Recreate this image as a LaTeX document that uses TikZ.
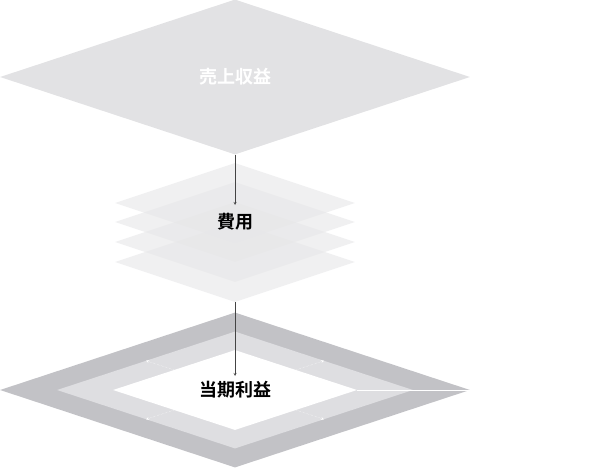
\documentclass[tikz,border=0pt]{standalone}
\usepackage{fontspec}
\newfontfamily\jpbold{Noto Sans CJK JP Bold}
\usetikzlibrary{shapes.geometric}
\definecolor{topgray}{HTML}{E2E2E4}
\definecolor{layergray}{HTML}{E6E6E8}
\definecolor{ringdark}{HTML}{C2C2C6}
\definecolor{ringlight}{HTML}{DEDEE1}
\definecolor{arrowgray}{HTML}{444444}
\tikzset{plane/.style={shape=diamond,inner sep=0pt,draw=none},
  label/.style={font=\jpbold\fontsize{18}{20}\selectfont},
  arrowdecorate/.style={->,>=stealth,thin,draw=arrowgray}}
\begin{document}
\begin{tikzpicture}[x=1pt,y=-1pt]
  \useasboundingbox (0,0) rectangle (616,468);
  %% revenue
  \node (revenue) at (235,77) [plane,fill=topgray,minimum width=470,minimum height=155,aspect=3.03] {};
  \node at (revenue) [label,text=white] {売上収益};
  %% expense layers
  \foreach \layername/\y in {layera/203, layerb/222, layerc/242, layerd/262}
  {
    \node (\layername) at (235,\y) [plane,fill=layergray,fill opacity=0.6,minimum width=240,minimum height=80,aspect=3] {};
  }
  \node (expense) at (235,222) [label] {費用};
  %% profit
  \node (profitouter) at (235,390) [plane,fill=ringdark,minimum width=470,minimum height=155,aspect=3.03] {};
  \node (profitmid) at (235,390) [plane,fill=ringlight,minimum width=356,minimum height=117,aspect=3.03] {};
  \node (profit) at (235,390) [plane,fill=white,minimum width=244,minimum height=80,aspect=3.03] {};
  \draw[white,thin] (profit.east) -- (profitouter.east);
  \foreach \a/\b in {profitmid.north west/profit.north west, profitmid.north east/profit.north east,
    profitmid.south west/profit.south west, profitmid.south east/profit.south east}
  {
    \draw[white,densely dotted,<-,>=stealth] (\a) -- (\b);
  }
  \node at (profit) [label] {当期利益};
  %% edges
  \coordinate (costin) at (235,205);
  \coordinate (profitin) at (235,376);
  \draw[arrowdecorate] (revenue.south) -- (costin);
  \draw[arrowdecorate] (layerd.south) -- (profitin);
\end{tikzpicture}
\end{document}
